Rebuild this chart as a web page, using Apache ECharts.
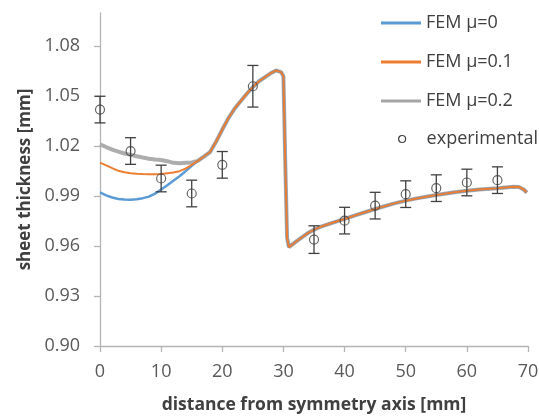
<!DOCTYPE html>
<html>
<head>
<meta charset="utf-8">
<script src="https://cdn.jsdelivr.net/npm/echarts@6/dist/echarts.min.js"></script>
<style>
  html, body { margin: 0; padding: 0; background: #fff; }
  #chart { width: 539px; height: 417px; }
</style>
</head>
<body>
<div id="chart"></div>
<script>
// x ticks / y ticks
var xTicks = [0, 10, 20, 30, 40, 50, 60, 70];
var yTicks = [0.90, 0.93, 0.96, 0.99, 1.02, 1.05, 1.08];

// left part (0..16 mm) differs per friction coefficient
var xLeft = [0, 1, 2, 3, 4, 5, 6, 7, 8, 9, 10, 11, 12, 13, 14, 15, 16];
var mu0Left = [0.9922, 0.9905, 0.9892, 0.9883, 0.9880, 0.9879, 0.9882, 0.9888, 0.9897, 0.9915, 0.9940, 0.9965, 0.9992, 1.0020, 1.0050, 1.0082, 1.0112];
var mu01Left = [1.0101, 1.0085, 1.0068, 1.0052, 1.0043, 1.0038, 1.0035, 1.0033, 1.0032, 1.0032, 1.0033, 1.0038, 1.0042, 1.0050, 1.0065, 1.0088, 1.0112];
var mu02Left = [1.0211, 1.0195, 1.0180, 1.0168, 1.0156, 1.0148, 1.0140, 1.0132, 1.0125, 1.0120, 1.0117, 1.0110, 1.0100, 1.0098, 1.0100, 1.0102, 1.0112];

// right part (17..70 mm), practically the same for all three
var xRight = [17, 18, 19, 20, 21, 22, 23, 24, 25, 26, 27, 28, 28.8, 29.6, 30.0, 30.3, 30.6, 30.9, 32, 33, 34, 35, 36, 38, 40, 42, 45, 48, 50, 52, 55, 58, 60, 62, 65, 67.6, 68.5, 69.3, 69.8];
var femRight = [1.0138, 1.0165, 1.0228, 1.0300, 1.0368, 1.0425, 1.0470, 1.0515, 1.0555, 1.0590, 1.0615, 1.0640, 1.0655, 1.0645, 1.0620, 1.0100, 0.9650, 0.9594, 0.9625, 0.9652, 0.9678, 0.9698, 0.9715, 0.9740, 0.9763, 0.9788, 0.9823, 0.9855, 0.9873, 0.9888, 0.9907, 0.9924, 0.9932, 0.9940, 0.9948, 0.9956, 0.9955, 0.9940, 0.9922];

// experimental points with error bars
var expX = [0, 5, 10, 15, 20, 25, 35, 40, 45, 50, 55, 60, 65];
var expY = [1.042, 1.0171, 1.0006, 0.9916, 1.0088, 1.0560, 0.9639, 0.9753, 0.9843, 0.9912, 0.9948, 0.9982, 0.9996];
var expErr = [0.008, 0.008, 0.008, 0.008, 0.008, 0.0125, 0.0083, 0.008, 0.008, 0.008, 0.008, 0.008, 0.008];

function toPairs(xs, ys) {
  return xs.map(function (x, i) { return [x, ys[i]]; });
}
var mu0Data = toPairs(xLeft, mu0Left).concat(toPairs(xRight, femRight));
var mu01Data = toPairs(xLeft, mu01Left).concat(toPairs(xRight, femRight));
var mu02Data = toPairs(xLeft, mu02Left).concat(toPairs(xRight, femRight));
var expData = toPairs(expX, expY);
var errData = expX.map(function (x, i) {
  return [x, expY[i] - expErr[i], expY[i] + expErr[i]];
});

var axisGray = "#b4b4b4";
var textGray = "#595959";
var dark = "#404040";
var fontFam = "'Open Sans', 'Noto Sans', sans-serif";

var myChart = echarts.init(document.getElementById("chart"), null, { renderer: "canvas" });
var option = {
  animation: false,
  backgroundColor: "#fff",
  textStyle: { fontFamily: fontFam },
  grid: { left: 100, top: 13, width: 428, height: 333, outerBoundsMode: "none", containLabel: false },
  legend: [
    {
      orient: "vertical",
      left: 376,
      top: 6,
      itemWidth: 40,
      itemHeight: 3,
      itemGap: 15,
      icon: "rect",
      textStyle: { fontSize: 18, color: dark, fontFamily: fontFam, lineHeight: 24 },
      data: ["FEM μ=0", "FEM μ=0.1", "FEM μ=0.2"],
    },
    {
      orient: "vertical",
      left: 393,
      top: 122,
      itemWidth: 7,
      itemHeight: 7,
      textStyle: { fontSize: 18, color: dark, fontFamily: fontFam, lineHeight: 24, padding: [0, 0, 0, 16] },
      data: [
        {
          name: "experimental",
          icon: "circle",
          itemStyle: { color: "transparent", borderColor: dark, borderWidth: 1.2 },
        },
      ],
    },
  ],
  xAxis: {
    type: "value",
    min: 0,
    max: 70,
    interval: 10,
    name: "distance from symmetry axis [mm]",
    nameLocation: "middle",
    nameGap: 50,
    nameTextStyle: { fontSize: 17.5, fontWeight: "bold", color: dark },
    axisLine: { lineStyle: { color: axisGray, width: 1.3 } },
    axisTick: { show: true, length: 6, lineStyle: { color: axisGray, width: 1.3 } },
    axisLabel: { fontSize: 18, color: textGray, margin: 17, customValues: xTicks },
    splitLine: { show: false },
  },
  yAxis: {
    type: "value",
    min: 0.9,
    max: 1.1,
    name: "sheet thickness [mm]",
    nameLocation: "middle",
    nameGap: 60,
    nameTextStyle: { fontSize: 17, fontWeight: "bold", color: dark },
    axisLine: { show: true, lineStyle: { color: axisGray, width: 1.3 } },
    axisTick: { show: true, length: 6, lineStyle: { color: axisGray, width: 1.3 }, customValues: yTicks },
    axisLabel: {
      fontSize: 18,
      color: textGray,
      margin: 20,
      customValues: yTicks,
      formatter: function (v) { return v.toFixed(2); },
    },
    splitLine: { show: false },
  },
  series: [
    {
      name: "FEM μ=0.2",
      type: "line",
      data: mu02Data,
      showSymbol: false,
      symbol: "none",
      color: "#a5a5a5",
      lineStyle: { width: 4, color: "#adadad" },
      z: 2,
    },
    {
      name: "FEM μ=0",
      type: "line",
      data: mu0Data,
      showSymbol: false,
      symbol: "none",
      color: "#5b9bd5",
      lineStyle: { width: 2.5, color: "#5b9bd5" },
      z: 3,
    },
    {
      name: "FEM μ=0.1",
      type: "line",
      data: mu01Data,
      showSymbol: false,
      symbol: "none",
      color: "#ed7d31",
      lineStyle: { width: 2, color: "#ed7d31" },
      z: 4,
    },
    {
      name: "experimental",
      type: "custom",
      data: errData,
      z: 5,
      renderItem: function (params, api) {
        var x = api.value(0);
        var lo = api.coord([x, api.value(1)]);
        var hi = api.coord([x, api.value(2)]);
        var half = 5.5;
        var style = { stroke: dark, lineWidth: 1.3 };
        return {
          type: "group",
          children: [
            { type: "line", shape: { x1: lo[0], y1: lo[1], x2: hi[0], y2: hi[1] }, style: style },
            { type: "line", shape: { x1: lo[0] - half, y1: lo[1], x2: lo[0] + half, y2: lo[1] }, style: style },
            { type: "line", shape: { x1: hi[0] - half, y1: hi[1], x2: hi[0] + half, y2: hi[1] }, style: style },
          ],
        };
      },
    },
    {
      name: "experimental",
      type: "scatter",
      data: expData,
      symbol: "circle",
      symbolSize: 9,
      z: 6,
      itemStyle: { color: "transparent", borderColor: dark, borderWidth: 1.2 },
    },
  ],
};
myChart.setOption(option);
</script>
</body>
</html>
